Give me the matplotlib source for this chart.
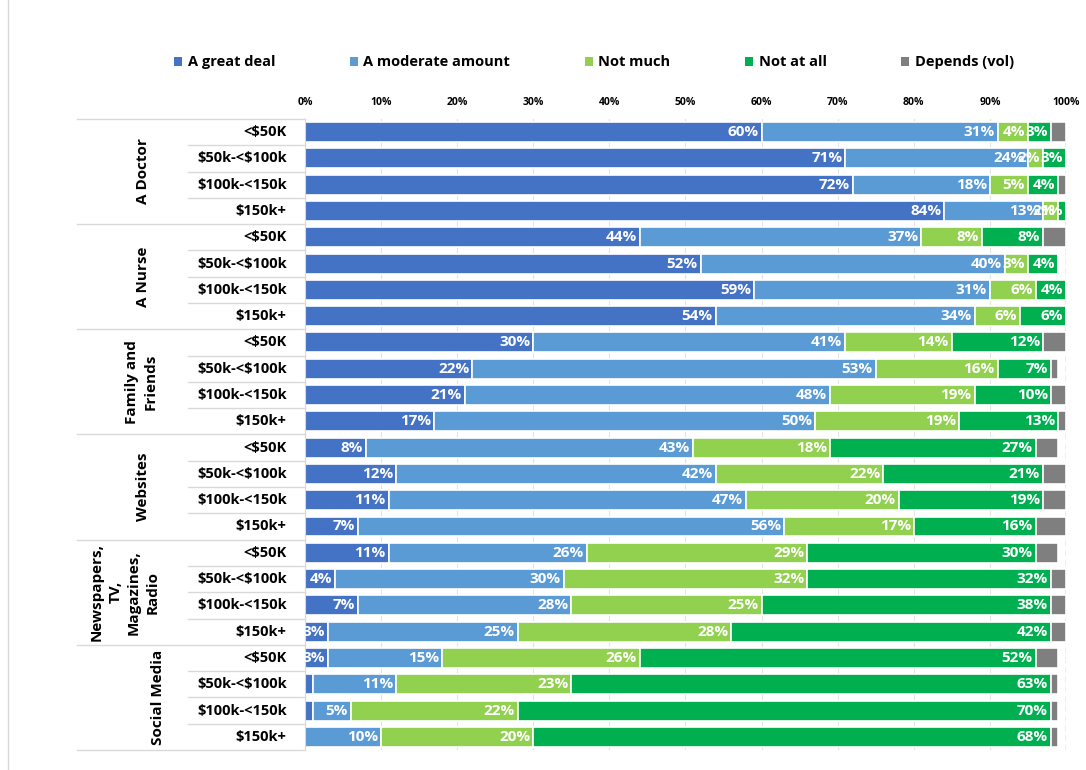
import numpy as np
import matplotlib
matplotlib.use("Agg")
import matplotlib.pyplot as plt
from matplotlib import transforms
from matplotlib.patches import Patch
from matplotlib.lines import Line2D

plt.rcParams['font.family'] = ['Open Sans', 'DejaVu Sans']
plt.rcParams['font.weight'] = 'bold'
plt.rcParams['text.parse_math'] = False

groups = ['A Doctor', 'A Nurse', 'Family and\nFriends', 'Websites',
          'Newspapers,\nTV,\nMagazines,\nRadio', 'Social Media']
incomes = ['<$50K', '$50k-<$100k', '$100k-<150k', '$150k+']
series = ['A great deal', 'A moderate amount', 'Not much', 'Not at all', 'Depends (vol)']
colors = ['#4472C4', '#5B9BD5', '#92D050', '#00B050', '#7F7F7F']

# rows: group by group, four income bands each
great_deal = [60, 71, 72, 84,  44, 52, 59, 54,  30, 22, 21, 17,
              8, 12, 11, 7,  11, 4, 7, 3,  3, 1, 1, 0]
moderate = [31, 24, 18, 13,  37, 40, 31, 34,  41, 53, 48, 50,
            43, 42, 47, 56,  26, 30, 28, 25,  15, 11, 5, 10]
not_much = [4, 2, 5, 2,  8, 3, 6, 6,  14, 16, 19, 19,
            18, 22, 20, 17,  29, 32, 25, 28,  26, 23, 22, 20]
not_at_all = [3, 3, 4, 1,  8, 4, 4, 6,  12, 7, 10, 13,
              27, 21, 19, 16,  30, 32, 38, 42,  52, 63, 70, 68]
depends = [2, 0, 1, 0,  3, 0, 0, 0,  3, 1, 2, 1,
           3, 3, 3, 4,  3, 2, 2, 2,  3, 1, 1, 1]

values = [great_deal, moderate, not_much, not_at_all, depends]
min_label = [2, 1, 1, 1, None]

fig = plt.figure(figsize=(10.86, 7.70), dpi=100)
ax = fig.add_axes([0.2808, 0.026, 0.7008, 0.8195])

n_rows = len(great_deal)
y = np.arange(n_rows)
left = np.zeros(n_rows)
for vals, col, name, lim in zip(values, colors, series, min_label):
    vals = np.array(vals, dtype=float)
    ax.barh(y, vals, left=left, height=0.76, color=col, edgecolor='white',
            linewidth=1.2, label=name, zorder=2)
    if lim is not None:
        for yi, (l, v) in enumerate(zip(left, vals)):
            if v >= lim:
                ax.text(l + v - 0.4, yi, f'{v:.0f}%', ha='right', va='center',
                        color='white', fontsize=11, fontweight='bold',
                        zorder=3, clip_on=True)
    left += vals

ax.set_xlim(0, 100)
ax.set_ylim(n_rows - 0.5, -0.5)
ax.xaxis.tick_top()
ax.set_xticks(np.arange(0, 101, 10))
ax.set_xticklabels([f'{t}%' for t in range(0, 101, 10)], fontsize=7.5, fontweight='bold')
ax.tick_params(axis='x', length=0, pad=8)
ax.set_yticks([])
ax.grid(axis='x', color='#e3e3e3', linewidth=0.8, zorder=0)
ax.axvline(100, color='#a6a6a6', linestyle=(0, (4, 3)), linewidth=1, zorder=1)
for side in ['top', 'bottom', 'right']:
    ax.spines[side].set_visible(False)
ax.spines['left'].set_color('#d9d9d9')

# income labels and separators in the left margin
trans = transforms.blended_transform_factory(ax.transAxes, ax.transData)
for i in range(n_rows):
    ax.text(-0.024, i, incomes[i % 4], transform=trans, ha='right', va='center',
            fontsize=10.5, fontweight='bold')
for b in range(n_rows + 1):
    yb = b - 0.5
    x0 = -0.30 if b % 4 == 0 else -0.154
    ax.add_line(Line2D([x0, 0], [yb, yb], transform=trans, color='#d9d9d9',
                       linewidth=1, clip_on=False))

group_x = [-0.213, -0.213, -0.215, -0.213, -0.237, -0.193]
for g, (name, gx) in enumerate(zip(groups, group_x)):
    ax.text(gx, g * 4 + 1.5, name, transform=trans, rotation=90, ha='center',
            va='center', fontsize=11, fontweight='bold', linespacing=1.4,
            multialignment='center')

handles = [Patch(facecolor=c, edgecolor='none') for c in colors]
fig.legend(handles, series, loc='center', bbox_to_anchor=(0.547, 0.919), ncol=5,
           frameon=False, fontsize=10.5, handlelength=0.55, handleheight=0.55,
           handletextpad=0.4, columnspacing=5.1)

fig.add_artist(Line2D([0.0075, 0.0075], [0, 1], color='#d9d9d9', linewidth=1))

fig.savefig('out.png', dpi=100, facecolor='white')
